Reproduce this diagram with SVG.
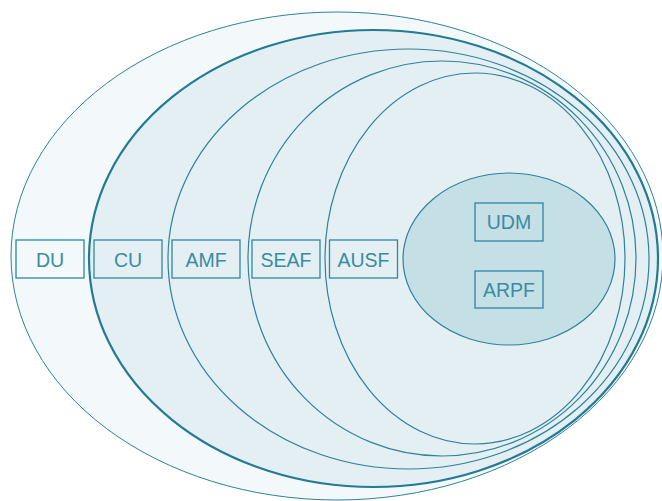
<svg xmlns="http://www.w3.org/2000/svg" width="662" height="501" viewBox="0 0 662 501">
<style>
.ring{stroke:#2f8299;stroke-width:1.2}
.lbl rect{fill:none;stroke:#2f86a0;stroke-width:1.3}
.lbl text{font-family:"Liberation Sans",Arial,sans-serif;font-size:19.5px;fill:#3a8ca2;text-anchor:middle;dominant-baseline:central}
</style>
<rect width="662" height="501" fill="#ffffff"/>
<g id="du-ring"><ellipse class="ring" cx="337" cy="256" rx="326" ry="244" fill="#f3f9fa" style="stroke-width:1"/></g>
<g id="cu-ring"><ellipse class="ring" cx="373.5" cy="258.5" rx="284.5" ry="228.5" fill="#e4eff3" style="stroke-width:2.2;stroke:#237b93"/></g>
<g id="amf-ring"><ellipse class="ring" cx="408.5" cy="259" rx="240.5" ry="210" fill="#e4eff3"/></g>
<g id="seaf-ring"><ellipse class="ring" cx="442" cy="258.5" rx="194" ry="197.5" fill="#e4eff3"/></g>
<g id="ausf-ring"><ellipse class="ring" cx="475" cy="258.5" rx="150" ry="185.5" fill="#e4eff3"/></g>
<g id="core"><ellipse class="ring" cx="509" cy="259" rx="106" ry="86" fill="#c5dfe6"/></g>
<g id="DU" class="lbl"><rect x="16" y="240" width="68" height="38"/><text x="50" y="259.5">DU</text></g>
<g id="CU" class="lbl"><rect x="94" y="240" width="68" height="38"/><text x="128" y="259.5">CU</text></g>
<g id="AMF" class="lbl"><rect x="172" y="240" width="68" height="38"/><text x="206" y="259.5">AMF</text></g>
<g id="SEAF" class="lbl"><rect x="252" y="240" width="68" height="38"/><text x="286" y="259.5">SEAF</text></g>
<g id="AUSF" class="lbl"><rect x="329.5" y="240" width="68" height="38"/><text x="363.5" y="259.5">AUSF</text></g>
<g id="UDM" class="lbl"><rect x="475" y="203" width="68" height="38"/><text x="509" y="222">UDM</text></g>
<g id="ARPF" class="lbl"><rect x="475" y="271" width="68" height="37"/><text x="509" y="290">ARPF</text></g>
<g id="connectors"></g>
</svg>
